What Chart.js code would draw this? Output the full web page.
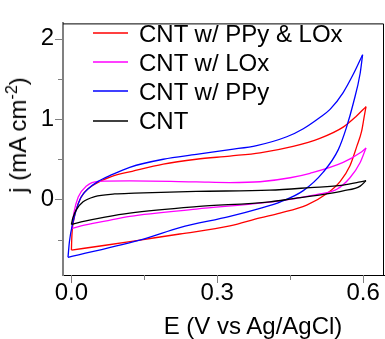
<!DOCTYPE html>
<html>
<head>
<meta charset="utf-8">
<script src="https://cdn.jsdelivr.net/npm/chart.js@4.4.1/dist/chart.umd.min.js"></script>
<style>
  body { margin: 0; background: #fff; }
  #wrap { position: relative; width: 385px; height: 339px; font-family: "Liberation Sans", Arial, sans-serif; color: #000; }
  #cv { position: absolute; left: 0; top: 0; }
  .txt { position: absolute; font-size: 24px; line-height: 24px; white-space: nowrap; }
  sup { font-size: 16px; vertical-align: 9px; line-height: 0; }
</style>
</head>
<body>
<div id="wrap">
  <canvas id="cv" width="385" height="339"></canvas>
  <div id="legendBox"></div>
  <div class="txt" id="ytitle" style="left:18px; top:135px; transform: translate(-50%, -50%) rotate(-90deg);">j (mA cm<sup>-2</sup>)</div>
  <div class="txt" id="xtitle" style="left:253px; top:314px; transform: translateX(-50%);">E (V vs Ag/AgCl)</div>
</div>
<script>
// CV loops: anodic (forward) sweep and cathodic (reverse) sweep for each film
const ppyLoxFwdE = [0.000, 0.001, 0.005, 0.014, 0.027, 0.048, 0.082, 0.125, 0.189, 0.257, 0.326, 0.388, 0.456, 0.511, 0.559, 0.585, 0.606];
const ppyLoxFwdJ = [-0.63, -0.45, -0.25, -0.05, 0.09, 0.19, 0.285, 0.35, 0.44, 0.50, 0.54, 0.58, 0.66, 0.76, 0.90, 1.03, 1.155];
const ppyLoxRevE = [0.606, 0.602, 0.597, 0.587, 0.573, 0.553, 0.525, 0.484, 0.429, 0.388, 0.326, 0.223, 0.141, 0.070, 0.000];
const ppyLoxRevJ = [1.155, 1.02, 0.85, 0.66, 0.42, 0.225, 0.07, -0.07, -0.17, -0.23, -0.33, -0.43, -0.505, -0.57, -0.63];

const loxFwdE = [0.001, 0.005, 0.014, 0.031, 0.055, 0.120, 0.257, 0.326, 0.388, 0.450, 0.491, 0.559, 0.594, 0.606];
const loxFwdJ = [-0.36, -0.17, 0.03, 0.166, 0.225, 0.23, 0.218, 0.21, 0.22, 0.27, 0.325, 0.46, 0.58, 0.64];
const loxRevE = [0.606, 0.594, 0.573, 0.546, 0.511, 0.456, 0.398, 0.257, 0.120, 0.069, 0.020, 0.001];
const loxRevJ = [0.64, 0.46, 0.27, 0.127, 0.068, 0.008, -0.04, -0.12, -0.21, -0.27, -0.33, -0.36];

const ppyFwdE = [-0.007, -0.004, 0.003, 0.010, 0.020, 0.034, 0.055, 0.082, 0.120, 0.189, 0.257, 0.326, 0.381, 0.443, 0.477, 0.511, 0.532, 0.559, 0.580, 0.599];
const ppyFwdJ = [-0.72, -0.52, -0.29, -0.13, 0.03, 0.13, 0.225, 0.305, 0.40, 0.50, 0.56, 0.62, 0.67, 0.78, 0.88, 1.02, 1.12, 1.33, 1.56, 1.80];
const ppyRevE = [0.599, 0.594, 0.580, 0.566, 0.549, 0.518, 0.477, 0.430, 0.388, 0.326, 0.223, 0.150, -0.007];
const ppyRevJ = [1.80, 1.57, 1.20, 0.90, 0.62, 0.34, 0.11, -0.03, -0.11, -0.21, -0.35, -0.49, -0.72];

const cntFwdE = [0.000, 0.003, 0.010, 0.024, 0.048, 0.089, 0.130, 0.257, 0.408, 0.491, 0.559, 0.594, 0.606];
const cntFwdJ = [-0.31, -0.23, -0.13, -0.03, 0.036, 0.068, 0.078, 0.10, 0.115, 0.147, 0.178, 0.218, 0.234];
const cntRevE = [0.606, 0.594, 0.559, 0.525, 0.456, 0.408, 0.257, 0.120, 0.069, 0.020, 0.000];
const cntRevJ = [0.234, 0.166, 0.107, 0.068, 0.01, -0.03, -0.09, -0.17, -0.22, -0.28, -0.31];

const seriesNames = ['CNT w/ PPy & LOx', 'CNT w/ LOx', 'CNT w/ PPy', 'CNT'];
const seriesColors = ['#ff0000', '#ff00ff', '#0000ff', '#000000'];

const xTicks = [0, 0.15, 0.3, 0.45, 0.6];
const xLabels = [0, 0.3, 0.6];
const yTicks = [-0.5, 0, 0.5, 1, 1.5, 2];
const yLabels = [0, 1, 2];

function pts(es, js) {
    return es.map(function (e, i) { return { x: e, y: js[i] }; });
}

const sweeps = [
    [ppyLoxFwdE, ppyLoxFwdJ, ppyLoxRevE, ppyLoxRevJ],
    [loxFwdE, loxFwdJ, loxRevE, loxRevJ],
    [ppyFwdE, ppyFwdJ, ppyRevE, ppyRevJ],
    [cntFwdE, cntFwdJ, cntRevE, cntRevJ]
];

const datasets = [];
// black first so the coloured loops sit on top
for (let s = sweeps.length - 1; s >= 0; s--) {
    const sw = sweeps[s];
    [pts(sw[0], sw[1]), pts(sw[2], sw[3])].forEach(function (d) {
        datasets.push({
            label: seriesNames[s],
            data: d,
            showLine: true,
            borderColor: seriesColors[s],
            borderWidth: 1.3,
            pointRadius: 0,
            cubicInterpolationMode: 'monotone',
            fill: false
        });
    });
}

// legend rows (names as html text, line samples drawn on the canvas)
const rowY = seriesNames.map(function (n, i) { return 33 + i * 29.2; });
const legendBox = document.getElementById('legendBox');
seriesNames.forEach(function (name, i) {
    const t = document.createElement('div');
    t.className = 'txt';
    t.style.left = '139px';
    t.style.top = (rowY[i] - 11.5) + 'px';
    t.textContent = name;
    legendBox.appendChild(t);
});

// outward tick marks, top/right frame lines and legend line samples
const frame = {
    id: 'frame',
    afterDraw(chart) {
        const c = chart.ctx, a = chart.chartArea;
        const xs = chart.scales.x, ys = chart.scales.y;
        c.save();
        c.lineWidth = 1;
        c.strokeStyle = '#808080';
        yTicks.forEach(function (v) {
            const y = Math.round(ys.getPixelForValue(v)) + 0.5;
            const len = yLabels.indexOf(v) >= 0 ? 7 : 4;
            c.beginPath(); c.moveTo(a.left - 1 - len, y); c.lineTo(a.left - 1, y); c.stroke();
        });
        xTicks.forEach(function (v) {
            const x = Math.round(xs.getPixelForValue(v)) + 0.5;
            const len = xLabels.indexOf(v) >= 0 ? 8 : 5;
            c.beginPath(); c.moveTo(x, a.bottom); c.lineTo(x, a.bottom + len); c.stroke();
        });
        c.strokeStyle = '#000';
        c.beginPath();
        c.moveTo(a.left, a.top + 0.5); c.lineTo(a.right - 0.5, a.top + 0.5); c.lineTo(a.right - 0.5, a.bottom);
        c.stroke();
        c.lineWidth = 1.6;
        rowY.forEach(function (y, i) {
            c.strokeStyle = seriesColors[i];
            c.beginPath(); c.moveTo(93, Math.round(y)); c.lineTo(128, Math.round(y)); c.stroke();
        });
        c.restore();
    }
};

const tickFont = { family: '"Liberation Sans", Arial, sans-serif', size: 24 };

new Chart(document.getElementById('cv').getContext('2d'), {
    type: 'scatter',
    data: { datasets: datasets },
    options: {
        responsive: false,
        animation: false,
        layout: { padding: { top: 11, right: 1, left: 0, bottom: 0 } },
        plugins: { legend: { display: false }, tooltip: { enabled: false } },
        scales: {
            x: {
                type: 'linear',
                min: -0.0173,
                max: 0.643,
                afterBuildTicks: function (axis) { axis.ticks = xTicks.map(function (v) { return { value: v }; }); },
                afterFit: function (axis) { axis.height = 64; },
                ticks: {
                    autoSkip: false,
                    maxRotation: 0,
                    padding: 4,
                    color: '#000',
                    font: tickFont,
                    callback: function (v) { return xLabels.indexOf(v) >= 0 ? v.toFixed(1) : ''; }
                },
                grid: { display: false, drawTicks: false },
                border: { color: '#000', width: 1 }
            },
            y: {
                type: 'linear',
                min: -0.94,
                max: 2.19,
                afterBuildTicks: function (axis) { axis.ticks = yTicks.map(function (v) { return { value: v }; }); },
                afterFit: function (axis) { axis.width = 63; },
                ticks: {
                    autoSkip: false,
                    padding: 9,
                    color: '#000',
                    font: tickFont,
                    callback: function (v) { return yLabels.indexOf(v) >= 0 ? String(v) : ''; }
                },
                grid: { display: false, drawTicks: false },
                border: { color: '#808080', width: 2 }
            }
        }
    },
    plugins: [frame]
});
</script>
</body>
</html>
